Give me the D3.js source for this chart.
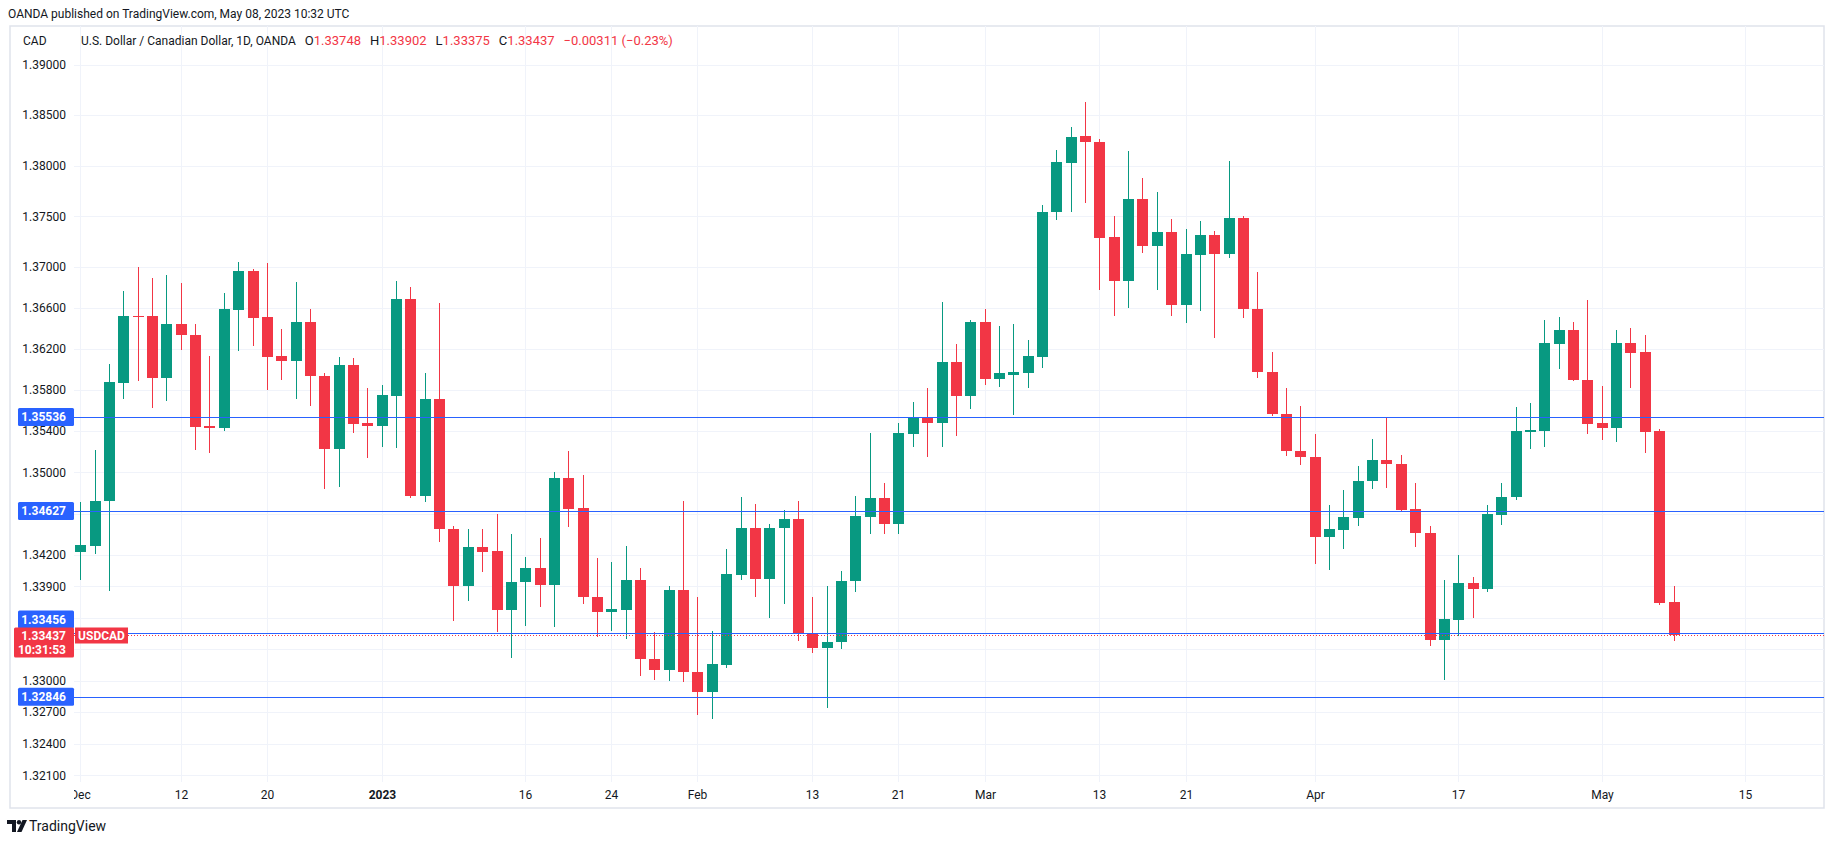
<!DOCTYPE html>
<html><head><meta charset="utf-8">
<script src="https://cdn.jsdelivr.net/npm/d3@7"></script>
<style>
html,body{margin:0;padding:0;background:#fff;}
svg{display:block;font-family:Roboto,"Liberation Sans",sans-serif;}
</style></head><body>
<svg id="c" width="1834" height="845"></svg>
<script>
// ---------- DATA ----------
const dates = [
"2022-12-01","2022-12-02","2022-12-05","2022-12-06","2022-12-07","2022-12-08","2022-12-09","2022-12-12","2022-12-13","2022-12-14",
"2022-12-15","2022-12-16","2022-12-19","2022-12-20","2022-12-21","2022-12-22","2022-12-23","2022-12-27","2022-12-28","2022-12-29",
"2022-12-30","2023-01-02","2023-01-03","2023-01-04","2023-01-05","2023-01-06","2023-01-09","2023-01-10","2023-01-11","2023-01-12",
"2023-01-13","2023-01-16","2023-01-17","2023-01-18","2023-01-19","2023-01-20","2023-01-23","2023-01-24","2023-01-25","2023-01-26",
"2023-01-27","2023-01-30","2023-01-31","2023-02-01","2023-02-02","2023-02-03","2023-02-06","2023-02-07","2023-02-08","2023-02-09",
"2023-02-10","2023-02-13","2023-02-14","2023-02-15","2023-02-16","2023-02-17","2023-02-20","2023-02-21","2023-02-22","2023-02-23",
"2023-02-24","2023-02-27","2023-02-28","2023-03-01","2023-03-02","2023-03-03","2023-03-06","2023-03-07","2023-03-08","2023-03-09",
"2023-03-10","2023-03-13","2023-03-14","2023-03-15","2023-03-16","2023-03-17","2023-03-20","2023-03-21","2023-03-22","2023-03-23",
"2023-03-24","2023-03-27","2023-03-28","2023-03-29","2023-03-30","2023-03-31","2023-04-03","2023-04-04","2023-04-05","2023-04-06",
"2023-04-07","2023-04-10","2023-04-11","2023-04-12","2023-04-13","2023-04-14","2023-04-17","2023-04-18","2023-04-19","2023-04-20",
"2023-04-21","2023-04-24","2023-04-25","2023-04-26","2023-04-27","2023-04-28","2023-05-01","2023-05-02","2023-05-03","2023-05-04",
"2023-05-05","2023-05-08"];

const open = [
1.3423,1.3429,1.3472,1.3587,1.3652,1.3652,1.3592,1.3644,1.3634,1.3545,
1.3543,1.3658,1.3696,1.3651,1.3613,1.3608,1.3646,1.3594,1.3523,1.3604,
1.3548,1.3545,1.3574,1.3669,1.3477,1.3571,1.3445,1.3390,1.3428,1.3424,
1.3367,1.3394,1.3408,1.3391,1.3495,1.3466,1.3380,1.3366,1.3367,1.3396,
1.3321,1.3310,1.3387,1.3308,1.3289,1.3315,1.3401,1.3446,1.3397,1.3446,
1.3455,1.3345,1.3331,1.3337,1.3395,1.3457,1.3475,1.3450,1.3537,1.3554,
1.3548,1.3607,1.3574,1.3646,1.3591,1.3595,1.3596,1.3612,1.3754,1.3803,
1.3829,1.3823,1.3730,1.3686,1.3767,1.3721,1.3735,1.3663,1.3712,1.3732,
1.3713,1.3748,1.3659,1.3597,1.3557,1.3521,1.3515,1.3438,1.3444,1.3456,
1.3492,1.3512,1.3508,1.3465,1.3441,1.3339,1.3358,1.3393,1.3388,1.3459,
1.3476,1.3539,1.3540,1.3625,1.3638,1.3590,1.3548,1.3543,1.3626,1.3617,
1.3540,1.33748];
const high = [
1.3471,1.3522,1.3605,1.3677,1.3700,1.3689,1.3692,1.3684,1.3644,1.3613,
1.3675,1.3705,1.3698,1.3704,1.3639,1.3685,1.3659,1.3596,1.3612,1.3611,
1.3582,1.3585,1.3686,1.3681,1.3596,1.3665,1.3448,1.3445,1.3445,1.3460,
1.3440,1.3418,1.3437,1.3500,1.3521,1.3497,1.3417,1.3414,1.3429,1.3408,
1.3346,1.3390,1.3472,1.3380,1.3347,1.3426,1.3476,1.3469,1.3450,1.3464,
1.3472,1.3380,1.3390,1.3405,1.3477,1.3538,1.3490,1.3548,1.3568,1.3582,
1.3666,1.3625,1.3648,1.3659,1.3642,1.3644,1.3629,1.3761,1.3816,1.3838,
1.3863,1.3826,1.3750,1.3815,1.3788,1.3774,1.3747,1.3738,1.3745,1.3736,
1.3805,1.3750,1.3695,1.3617,1.3582,1.3564,1.3537,1.3468,1.3483,1.3506,
1.3532,1.3554,1.3517,1.3490,1.3448,1.3396,1.3420,1.3399,1.3468,1.3490,
1.3563,1.3567,1.3648,1.3651,1.3646,1.3668,1.3584,1.3638,1.3640,1.3634,
1.3542,1.33902];
const low = [
1.3396,1.3421,1.3386,1.3571,1.3589,1.3562,1.3569,1.3619,1.3522,1.3519,
1.3540,1.3618,1.3623,1.3580,1.3590,1.3571,1.3564,1.3484,1.3486,1.3538,
1.3514,1.3525,1.3524,1.3475,1.3471,1.3433,1.3357,1.3376,1.3404,1.3346,
1.3322,1.3352,1.3370,1.3351,1.3447,1.3373,1.3342,1.3347,1.3340,1.3304,
1.3301,1.3300,1.3299,1.3267,1.3263,1.3312,1.3396,1.3380,1.3360,1.3373,
1.3338,1.3326,1.3274,1.3330,1.3385,1.3440,1.3440,1.3440,1.3525,1.3515,
1.3525,1.3535,1.3561,1.3585,1.3583,1.3556,1.3582,1.3601,1.3746,1.3754,
1.3763,1.3678,1.3652,1.3660,1.3714,1.3678,1.3652,1.3645,1.3657,1.3631,
1.3709,1.3650,1.3592,1.3555,1.3516,1.3507,1.3412,1.3406,1.3426,1.3448,
1.3484,1.3485,1.3462,1.3428,1.3333,1.3301,1.3343,1.3360,1.3385,1.3449,
1.3473,1.3523,1.3525,1.3600,1.3589,1.3537,1.3531,1.3529,1.3582,1.3519,
1.3372,1.33375];
const close = [
1.3430,1.3472,1.3588,1.3652,1.3651,1.3592,1.3644,1.3634,1.3544,1.3543,
1.3659,1.3696,1.3650,1.3612,1.3608,1.3646,1.3594,1.3523,1.3604,1.3547,
1.3545,1.3575,1.3669,1.3477,1.3571,1.3445,1.3390,1.3428,1.3423,1.3367,
1.3394,1.3408,1.3391,1.3495,1.3465,1.3380,1.3366,1.3368,1.3396,1.3321,
1.3310,1.3387,1.3308,1.3289,1.3316,1.3402,1.3446,1.3397,1.3446,1.3455,
1.3345,1.3331,1.3337,1.3395,1.3458,1.3475,1.3450,1.3538,1.3554,1.3548,
1.3607,1.3574,1.3646,1.3591,1.3596,1.3597,1.3613,1.3754,1.3804,1.3828,
1.3823,1.3729,1.3686,1.3767,1.3721,1.3735,1.3663,1.3713,1.3732,1.3713,
1.3748,1.3659,1.3597,1.3557,1.3521,1.3515,1.3438,1.3445,1.3457,1.3492,
1.3512,1.3508,1.3464,1.3441,1.3339,1.3359,1.3393,1.3388,1.3460,1.3476,
1.3540,1.3541,1.3626,1.3638,1.3590,1.3547,1.3543,1.3626,1.3616,1.3539,
1.3374,1.33437];

const yTicks = [1.39,1.385,1.38,1.375,1.37,1.366,1.362,1.358,1.354,1.35,1.346,1.342,1.339,1.336,1.333,1.33,1.327,1.324,1.321];
const xTickDates = ["2022-12-01","2022-12-12","2022-12-20","2023-01-02","2023-01-16","2023-01-24","2023-02-01","2023-02-13","2023-02-21","2023-03-01","2023-03-13","2023-03-21","2023-04-03","2023-04-17","2023-05-01","2023-05-15"];
const xTickLabels = ["Dec","12","20","2023","16","24","Feb","13","21","Mar","13","21","Apr","17","May","15"];
const hLines = [1.35536, 1.34627, 1.33456, 1.32846];
const lastPrice = 1.33437;
const countdown = "10:31:53";
const symbol = "USDCAD";
const headerText = "OANDA published on TradingView.com, May 08, 2023 10:32 UTC";
const legendTitle = "U.S. Dollar / Canadian Dollar, 1D, OANDA";
const legendOHLC = [["O","1.33748"],["H","1.33902"],["L","1.33375"],["C","1.33437"]];
const legendChange = "\u22120.00311 (\u22120.23%)";

// ---------- LAYOUT ----------
const GREEN = "#089981", RED = "#F23645", BLUE = "#2962FF", TEXT = "#131722", GRID = "#f0f3fa";
const plot = {l:74, r:1824, t:26, b:782};
const svg = d3.select("#c");

function idxOf(d){
  const k = dates.indexOf(d);
  if (k >= 0) return k;
  let cur = new Date(dates[dates.length-1]+"T00:00:00Z"), target = new Date(d+"T00:00:00Z"), n = dates.length-1;
  while (cur < target){ cur.setUTCDate(cur.getUTCDate()+1); const wd = cur.getUTCDay(); if (wd!==0 && wd!==6) n++; }
  return n;
}
const x = d3.scaleLinear().domain([0,116]).range([80.3,1745.3]);
const y = d3.scaleLog().domain([1.321,1.39]).range([775.3,65]);

// frame
svg.append("rect").attr("x",10).attr("y",26).attr("width",1814).attr("height",782)
  .attr("fill","#fff").attr("stroke","#e0e3eb").attr("stroke-width",1.5);

const defs = svg.append("defs");
defs.append("clipPath").attr("id","pc").append("rect")
  .attr("x",plot.l).attr("y",plot.t).attr("width",plot.r-plot.l).attr("height",plot.b-plot.t);
defs.append("clipPath").attr("id","xc").append("rect")
  .attr("x",plot.l).attr("y",plot.b).attr("width",plot.r-plot.l).attr("height",26);

const gp = svg.append("g").attr("clip-path","url(#pc)");

// grid
gp.selectAll("line.hg").data(yTicks).join("line")
  .attr("x1",plot.l).attr("x2",plot.r)
  .attr("y1",d=>Math.round(y(d))+0.5).attr("y2",d=>Math.round(y(d))+0.5)
  .attr("stroke",GRID).attr("stroke-width",1);
gp.selectAll("line.vg").data(xTickDates).join("line")
  .attr("x1",d=>Math.round(x(idxOf(d)))+0.5).attr("x2",d=>Math.round(x(idxOf(d)))+0.5)
  .attr("y1",plot.t).attr("y2",plot.b)
  .attr("stroke",GRID).attr("stroke-width",1);

// candles
const idx = d3.range(dates.length);
const cx = i => Math.round(x(i));
const col = i => close[i] >= open[i] ? GREEN : RED;
gp.selectAll("rect.wick").data(idx).join("rect")
  .attr("x",i=>cx(i)).attr("width",1)
  .attr("y",i=>Math.round(y(high[i])))
  .attr("height",i=>Math.max(1,Math.round(y(low[i]))-Math.round(y(high[i]))))
  .attr("fill",col).attr("shape-rendering","crispEdges");
gp.selectAll("rect.body").data(idx).join("rect")
  .attr("x",i=>cx(i)-5).attr("width",11)
  .attr("y",i=>Math.round(y(Math.max(open[i],close[i]))))
  .attr("height",i=>Math.max(1,Math.round(y(Math.min(open[i],close[i])))-Math.round(y(Math.max(open[i],close[i])))))
  .attr("fill",col).attr("shape-rendering","crispEdges");

// horizontal lines
gp.selectAll("line.hl").data(hLines).join("line")
  .attr("x1",plot.l).attr("x2",plot.r)
  .attr("y1",d=>Math.round(y(d))+0.5).attr("y2",d=>Math.round(y(d))+0.5)
  .attr("stroke",BLUE).attr("stroke-width",1);
gp.append("line").attr("x1",plot.l).attr("x2",plot.r)
  .attr("y1",Math.round(y(lastPrice))+0.5).attr("y2",Math.round(y(lastPrice))+0.5)
  .attr("stroke",RED).attr("stroke-width",1).attr("stroke-dasharray","1,2");

// badges (price axis)
const lastY = y(lastPrice);
const redTop = Math.round(lastY) - 7.5, redH = 30;
const badges = hLines.map(v => {
  let top = y(v) - 9;
  if (top + 18 > redTop && top < redTop + redH) top = redTop - 18 + 1;
  return {v, top};
});
const rects = badges.map(b=>[b.top,b.top+18]).concat([[redTop,redTop+redH]]);

svg.append("g").selectAll("text").data(yTicks.filter(t=>{
  const yy = y(t);
  return !rects.some(r => yy+4 > r[0] && yy-4 < r[1]);
})).join("text")
  .attr("x",66).attr("y",d=>y(d)).attr("dy","0.35em").attr("text-anchor","end")
  .attr("font-size",12).attr("fill",TEXT).text(d=>d.toFixed(5));

const gb = svg.append("g").attr("font-weight","bold");
gb.selectAll("rect").data(badges).join("rect")
  .attr("x",18).attr("y",d=>d.top).attr("width",56).attr("height",18).attr("rx",1.5)
  .attr("fill",BLUE);
gb.selectAll("text").data(badges).join("text")
  .attr("x",66).attr("y",d=>d.top+9).attr("dy","0.36em").attr("text-anchor","end")
  .attr("font-size",12).attr("fill","#fff").text(d=>d.v.toFixed(5));
gb.append("rect").attr("x",14).attr("y",redTop).attr("width",60).attr("height",redH).attr("rx",1.5).attr("fill",RED);
gb.append("text").attr("x",66).attr("y",redTop+8.5).attr("dy","0.36em").attr("text-anchor","end")
  .attr("font-size",12).attr("fill","#fff").text(lastPrice.toFixed(5));
gb.append("text").attr("x",66).attr("y",redTop+22.5).attr("dy","0.36em").attr("text-anchor","end")
  .attr("font-size",12).attr("fill","#fff").text(countdown);
gb.append("rect").attr("x",75).attr("y",Math.round(lastY)-7.5).attr("width",53).attr("height",16).attr("fill",RED);
gb.append("text").attr("x",101.5).attr("y",Math.round(lastY)+0.5).attr("dy","0.36em").attr("text-anchor","middle")
  .attr("font-size",12).attr("fill","#fff").text(symbol);

// x axis labels
svg.append("g").attr("clip-path","url(#xc)").selectAll("text").data(xTickDates).join("text")
  .attr("x",(d)=>Math.round(x(idxOf(d)))+0.5).attr("y",795).attr("dy","0.35em").attr("text-anchor","middle")
  .attr("font-size",12).attr("fill",TEXT)
  .attr("font-weight",(d,i)=>/^\d{4}$/.test(xTickLabels[i])?"bold":"normal")
  .text((d,i)=>xTickLabels[i]);

// header & legend
svg.append("text").attr("x",8).attr("y",14).attr("dy","0.35em").attr("font-size",12).attr("fill",TEXT).text(headerText);
svg.append("text").attr("x",23).attr("y",41).attr("dy","0.35em").attr("font-size",12).attr("fill",TEXT).text("CAD");
const lg = svg.append("text").attr("x",81).attr("y",41).attr("dy","0.35em").attr("font-size",12).attr("fill",TEXT);
lg.append("tspan").text(legendTitle);
legendOHLC.forEach((p,k)=>{
  lg.append("tspan").attr("dx", k===0?9:9).attr("font-size",13).text(p[0]);
  lg.append("tspan").attr("fill",RED).attr("font-size",13).text(p[1]);
});
lg.append("tspan").attr("dx",9).attr("fill",RED).attr("font-size",13).text(legendChange);

// logo
const lgo = svg.append("g").attr("fill",TEXT);
lgo.append("path").attr("d","M7 820 h9 v12 h-4 v-8 h-5 z");
lgo.append("circle").attr("cx",19).attr("cy",822.2).attr("r",2.2);
lgo.append("path").attr("d","M22.5 820 h4.5 l-5.5 12 h-4.5 z");
svg.append("text").attr("x",29).attr("y",826).attr("dy","0.35em").attr("font-size",14).attr("fill",TEXT).text("TradingView");
</script>
</body></html>
